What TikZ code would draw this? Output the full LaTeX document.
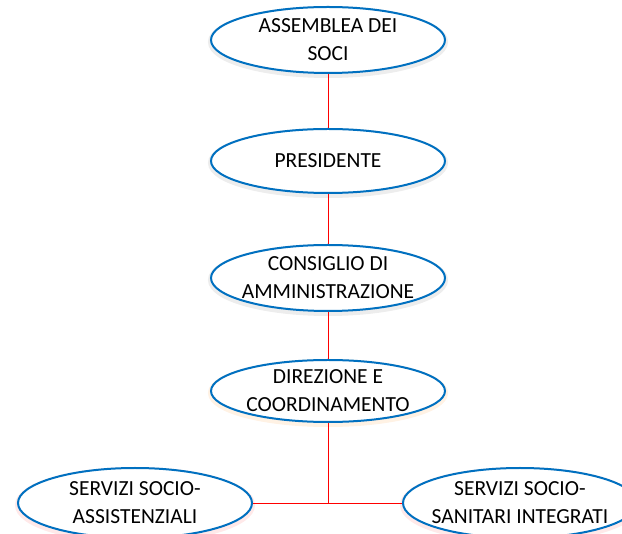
\documentclass[tikz,border=0pt]{standalone}
\usepackage{fontspec}
\setmainfont{Carlito}
\usetikzlibrary{shapes.geometric}
\definecolor{bordo}{RGB}{0,112,192}
\begin{document}
\begin{tikzpicture}[x=1pt,y=-1pt,
    ente/.style={ellipse,draw=bordo,line width=2pt,fill=white,
      minimum width=234pt,minimum height=66pt,inner sep=-40pt,align=center,
      font=\fontsize{21.5}{28}\selectfont,
      preaction={draw=#1,line width=6pt,opacity=0.35,transform canvas={yshift=-2pt}}},
    ente/.default=gray!40,
    linea/.style={red,line width=0.9pt}]
  \useasboundingbox (0,0) rectangle (622,534);
  \draw
    (328,40) node[ente] (assemblea){ASSEMBLEA DEI\\SOCI}
    (328,161) node[ente,minimum height=64pt] (presidente){PRESIDENTE}
    (328,278) node[ente] (consiglio){CONSIGLIO DI\\AMMINISTRAZIONE}
    (328,391) node[ente=orange!30,minimum height=62pt] (direzione){DIREZIONE E\\COORDINAMENTO}
    (135,503) node[ente=red!25,minimum height=70pt] (assistenziali){SERVIZI SOCIO-\\ASSISTENZIALI}
    (520,503) node[ente=red!25,minimum height=70pt] (sanitari){SERVIZI SOCIO-\\SANITARI INTEGRATI};
  \coordinate (snodo) at (direzione |- assistenziali);
  \begin{scope}[linea]
    \draw (assemblea) to (presidente);
    \draw (presidente) to (consiglio);
    \draw (consiglio) to (direzione);
    \draw (direzione) to (snodo);
    \draw (assistenziali) to (sanitari);
  \end{scope}
\end{tikzpicture}
\end{document}
